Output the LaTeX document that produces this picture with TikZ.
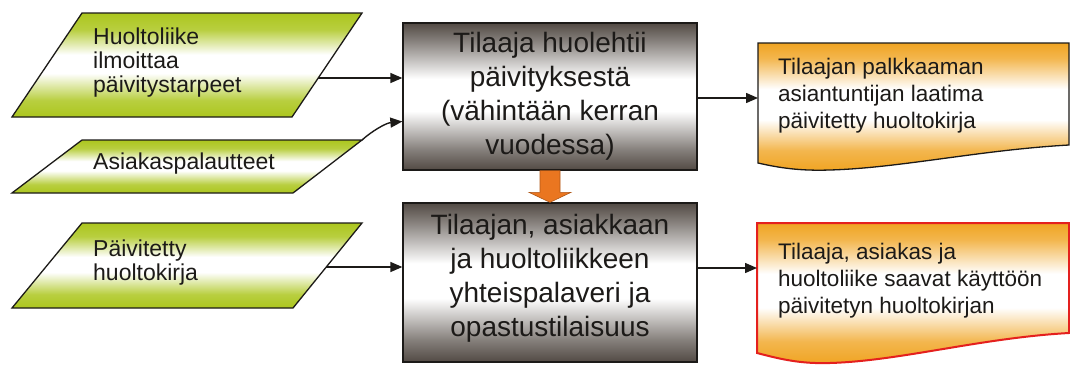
\documentclass[tikz,border=0pt]{standalone}
\usepackage{fontspec}
\setmainfont{Liberation Sans}
\usetikzlibrary{arrows.meta,calc}

\definecolor{leaf}{RGB}{172,198,30}
\definecolor{earth}{RGB}{82,74,68}
\definecolor{amber}{RGB}{240,164,34}
\definecolor{flame}{RGB}{234,118,32}
\definecolor{docred}{RGB}{228,32,30}
\definecolor{ink}{RGB}{28,26,24}

% vertical bands: strong colour at top and bottom, white in the middle
\pgfdeclareverticalshading{leafband}{100bp}{color(0bp)=(leaf); color(25bp)=(leaf); color(33bp)=(leaf!85!white); color(46bp)=(white); color(55bp)=(white); color(67bp)=(leaf!85!white); color(75bp)=(leaf); color(100bp)=(leaf)}
\pgfdeclareverticalshading{earthband}{100bp}{color(0bp)=(earth); color(25bp)=(earth); color(32bp)=(earth!70!white); color(45bp)=(white); color(56bp)=(white); color(69bp)=(earth!70!white); color(75bp)=(earth); color(100bp)=(earth)}
\pgfdeclareverticalshading{amberband}{100bp}{color(0bp)=(amber); color(25bp)=(amber); color(33bp)=(amber!80!white); color(45bp)=(white); color(57bp)=(white); color(69bp)=(amber!80!white); color(75bp)=(amber); color(100bp)=(amber)}

\begin{document}
\begin{tikzpicture}[x=1pt,y=-1pt,
  para/.style={draw=ink, line width=1.3pt, shade, shading=leafband},
  paratext/.style={font=\fontsize{23}{24}\selectfont, text=ink, align=left, inner sep=0pt, anchor=west},
  stepbox/.style={draw=ink, line width=1.3pt, shade, shading=earthband, minimum width=294pt,
    font=\fontsize{28}{34}\selectfont, align=center, text=ink, inner sep=0pt},
  docbox/.style={draw=ink, line width=1.3pt, shade, shading=amberband},
  doctext/.style={font=\fontsize{22.5}{27}\selectfont, text=ink, align=left, inner sep=0pt, anchor=west},
  link/.style={-{Triangle[length=12pt,width=10pt]}, line width=1.4pt, draw=ink}]

\useasboundingbox (0,0) rectangle (1070,372);

% input parallelograms
\path[para] (82,13) -- (362,13) -- (292,117) -- (12,117) -- cycle;
\node[paratext] (p1) at (93,63) {Huoltoliike\\ilmoittaa\\päivitystarpeet};
\coordinate (p1e) at (318,78);

\path[para] (82,140) -- (362,140) -- (293,193) -- (12,193) -- cycle;
\node[paratext] (p2) at (93,164) {Asiakaspalautteet};
\coordinate (p2e) at (362,140);

\path[para] (82,223) -- (362,223) -- (293,308) -- (12,308) -- cycle;
\node[paratext] (p3) at (93,263) {Päivitetty\\huoltokirja};
\coordinate (p3e) at (326,267);

% process boxes
\node[stepbox, minimum height=147pt] (b1) at (550,96.5)
  {Tilaaja huolehtii\\päivityksestä\\(vähintään kerran\\vuodessa)};
\node[stepbox, minimum height=159pt] (b2) at (550,282.5)
  {Tilaajan, asiakkaan\\ja huoltoliikkeen\\yhteispalaveri ja\\opastustilaisuus\\[-20pt]\mbox{}};

% block arrow between the boxes
\path[fill=flame, draw=flame!75!black, line width=0.6pt]
  ($(b1.south)+(-10,0)$) -- ($(b1.south)+(10,0)$) -- ($(b2.north)+(10,-10)$)
  -- ($(b2.north)+(21,-10)$) -- (b2.north) -- ($(b2.north)+(-21,-10)$)
  -- ($(b2.north)+(-10,-10)$) -- cycle;

% output documents
\path[docbox] (758,43) -- (1069,43) -- (1069,145)
  .. controls (980,150) and (900,168) .. (830,170)
  .. controls (800,171) and (780,168) .. (758,163) -- cycle;
\node[doctext] (d1) at (778,96) {Tilaajan palkkaaman\\asiantuntijan laatima\\päivitetty huoltokirja};
\coordinate (d1w) at (758,98);

\path[docbox, draw=docred, line width=2pt] (757,223) -- (1069,223) -- (1069,333)
  .. controls (980,338) and (900,361) .. (830,363)
  .. controls (800,364) and (780,359) .. (757,353) -- cycle;
\node[doctext] (d2) at (778,281) {Tilaaja, asiakas ja\\huoltoliike saavat käyttöön\\päivitetyn huoltokirjan};
\coordinate (d2w) at (757,268);

% connectors
\draw[link] (p1e) -- (p1e -| b1.west);
\draw[link] (p2e) .. controls (372,131) and (386,123) .. ($(b1.west)+(0,25)$);
\draw[link] (p3e) -- (p3e -| b2.west);
\draw[link] (b1.east |- d1w) -- (d1w);
\draw[link] (b2.east |- d2w) -- (d2w);

\end{tikzpicture}
\end{document}
